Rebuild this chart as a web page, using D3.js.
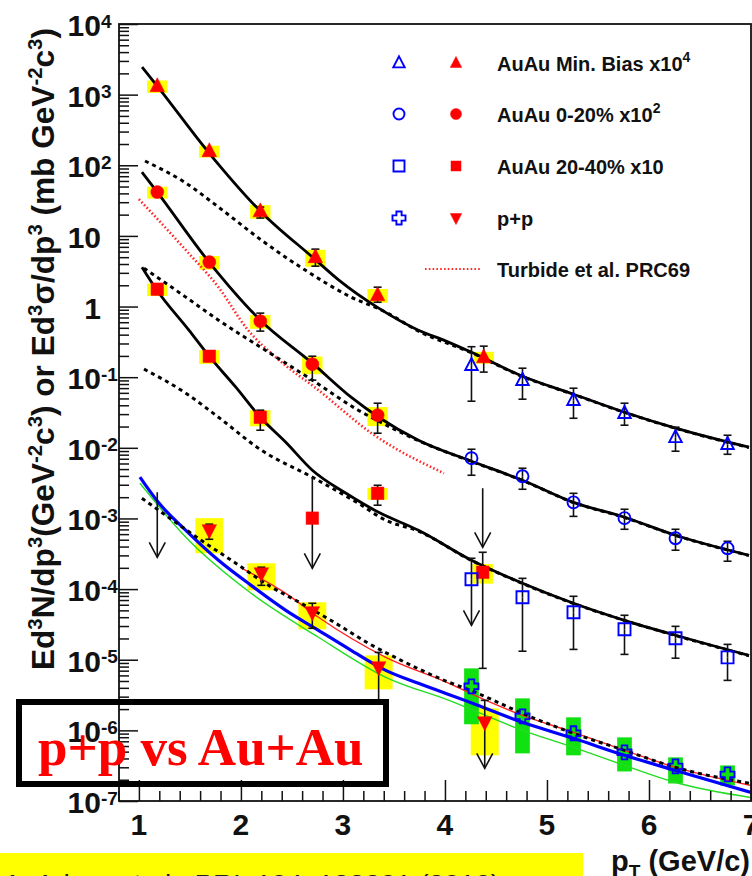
<!DOCTYPE html>
<html>
<head>
<meta charset="utf-8">
<script src="https://cdn.jsdelivr.net/npm/d3@7"></script>
<style>
  html, body { margin: 0; padding: 0; background: #fff; }
  svg { display: block; font-family: "Liberation Sans", Arial, Helvetica, sans-serif; }
</style>
</head>
<body>
<svg id="chart" width="752" height="876"></svg>
<script>
// ---------------- data (pT in GeV/c) ----------------
// Au+Au minimum bias, scaled x10^4 (filled: virtual-photon method)
const mbPt      = [1.18, 1.69, 2.19, 2.73, 3.34, 4.38];
const mbYield   = [1324, 159, 22.4, 5.01, 1.45, 0.192];
const mbStatLo  = [null, null, 17.9, 3.73, 1.15, 0.118];
const mbStatHi  = [null, null, 25.6, 6.5, 1.88, 0.275];
const mbSys     = [0.2, 0.19, 0.22, 0.27, 0.22, 0.19];
// Au+Au minimum bias x10^4 (open: real photons)
const mbHiPt    = [4.26, 4.76, 5.26, 5.76, 6.26, 6.77];
const mbHiYield = [0.148, 0.0908, 0.0472, 0.0309, 0.0141, 0.01125];
const mbHiLo    = [0.0457, 0.0488, 0.0262, 0.0209, 0.00895, 0.0081];
const mbHiHi    = [0.27, 0.134, 0.0698, 0.0428, 0.0196, 0.01507];

// Au+Au 0-20%, scaled x10^2
const c020Pt      = [1.18, 1.69, 2.19, 2.70, 3.34];
const c020Yield   = [41.7, 4.26, 0.621, 0.153, 0.029];
const c020StatLo  = [null, null, 0.449, 0.0908, 0.0161];
const c020StatHi  = [null, null, 0.807, 0.198, 0.0428];
const c020Sys     = [0.19, 0.22, 0.22, 0.28, 0.3];
const c020HiPt    = [4.26, 4.76, 5.26, 5.76, 6.26, 6.77];
const c020HiYield = [7.13e-3, 3.96e-3, 1.69e-3, 1.01e-3, 5.25e-4, 3.78e-4];
const c020HiLo    = [4.09e-3, 2.59e-3, 1.07e-3, 7.03e-4, 3.55e-4, 2.48e-4];
const c020HiHi    = [9.55e-3, 5.14e-3, 2.27e-3, 1.35e-3, 7.03e-4, 4.75e-4];

// Au+Au 20-40%, scaled x10
const c2040Pt      = [1.18, 1.69, 2.19, 3.34, 4.37];
const c2040Yield   = [1.76, 0.198, 0.0271, 2.27e-3, 1.73e-4];
const c2040StatLo  = [null, null, 0.01775, 1.54e-3, 7.55e-6];
const c2040StatHi  = [null, null, 0.0341, 2.95e-3, 3.32e-4];
const c2040Sys     = [0.2, 0.22, 0.255, 0.19, 0.31];
const c2040LimPt    = [2.70];
const c2040LimYield = [1.01e-3];
const c2040HiPt    = [4.26, 4.76, 5.26, 5.76, 6.26, 6.77];
const c2040HiYield = [1.38e-4, 7.66e-5, 4.69e-5, 2.70e-5, 2.01e-5, 1.08e-5];
const c2040HiLo    = [null, 1.32e-5, 1.40e-5, 1.19e-5, 1.05e-5, 5.1e-6];
const c2040HiHi    = [2.73e-4, 1.42e-4, 7.91e-5, 4.26e-5, 2.97e-5, 1.65e-5];

// p+p cross section (mb GeV^-2 c^3)
const ppPt     = [1.69, 2.20, 2.70, 3.35, 4.39];
const ppXsec   = [6.8e-4, 1.67e-4, 4.69e-5, 7.8e-6, 1.30e-6];
const ppStatLo = [5.07e-4, 1.13e-4, 2.79e-5, 2.7e-6, null];
const ppStatHi = [8.3e-4, 2.04e-4, 6.3e-5, 1.27e-5, 2.66e-6];
const ppSysLo  = [3.21e-4, 9.6e-5, 2.70e-5, 3.81e-6, 4.43e-7];
const ppSysHi  = [1.01e-3, 2.32e-4, 6.5e-5, 1.15e-5, 2.05e-6];
const ppHiPt    = [4.26, 4.76, 5.26, 5.76, 6.26, 6.77];
const ppHiXsec  = [4.2e-6, 1.58e-6, 9.08e-7, 4.88e-7, 3.09e-7, 2.38e-7];
const ppHiSysLo = [1.22e-6, 4.72e-7, 4.43e-7, 2.62e-7, 1.77e-7, 1.66e-7];
const ppHiSysHi = [7.55e-6, 2.84e-6, 1.53e-6, 7.96e-7, 4.15e-7, 3.19e-7];

// upper limits (arrows)
const limitPt   = [1.18, 2.70, 4.26, 4.37, 4.39];
const limitFrom = [2.35e-3, 3.84e-3, 1.38e-4, 2.68e-3, 1.30e-6];
const limitTo   = [2.82e-4, 1.97e-4, 3.07e-5, 3.91e-4, 2.9e-7];

// fit to Au+Au (solid) and Ncoll-scaled p+p fit (dashed)
const fitMbPt    = [1.03, 1.18, 1.68, 2.20, 2.71, 2.96, 3.35, 3.74, 4.01, 4.26, 4.76, 5.26, 5.76, 6.26, 6.98];
const fitMbVal   = [2460, 1320, 154, 21.7, 4.89, 2.37, 0.95, 0.463, 0.324, 0.225, 0.103, 0.0574, 0.0319, 0.0190, 0.0102];
const ppMbPt     = [1.06, 1.46, 1.78, 2.20, 2.63, 3.08, 3.42, 3.74, 4.26, 4.76, 5.26, 5.76, 6.26, 6.98];
const ppMbVal    = [115, 56, 25.6, 8.73, 3.28, 1.36, 0.834, 0.449, 0.222, 0.102, 0.0570, 0.0317, 0.0189, 0.0101];
const fit020Pt   = [1.03, 1.18, 1.68, 2.19, 2.70, 3.08, 3.35, 3.74, 4.26, 4.76, 5.26, 5.76, 6.26, 6.98];
const fit020Val  = [80, 41.7, 4.40, 0.642, 0.158, 0.0521, 0.0271, 0.0128, 6.46e-3, 3.48e-3, 1.69e-3, 1.04e-3, 5.78e-4, 3.01e-4];
const pp020Pt    = [1.05, 1.46, 1.78, 2.24, 2.70, 3.15, 3.35, 3.74, 4.26, 4.76, 5.26, 5.76, 6.26, 6.98];
const pp020Val   = [3.50, 1.36, 0.642, 0.241, 0.0908, 0.0341, 0.0238, 0.0126, 6.4e-3, 3.45e-3, 1.68e-3, 1.03e-3, 5.75e-4, 3.0e-4];
const fit2040Pt  = [1.03, 1.17, 1.49, 1.68, 1.95, 2.19, 2.44, 2.70, 3.03, 3.35, 3.74, 4.26, 4.76, 5.26, 5.76, 6.26, 6.98];
const fit2040Val = [3.61, 1.76, 0.463, 0.205, 0.0722, 0.0271, 0.0120, 4.82e-3, 2.27e-3, 1.22e-3, 6.8e-4, 2.56e-4, 1.21e-4, 6.3e-5, 3.61e-5, 2.22e-5, 1.15e-5];
const pp2040Pt   = [1.05, 1.46, 1.78, 2.20, 2.70, 3.15, 3.42, 3.74, 4.26, 4.76, 5.26, 5.76, 6.26, 6.98];
const pp2040Val  = [0.130, 0.0593, 0.0271, 9.25e-3, 3.84e-3, 1.64e-3, 9.43e-4, 6.6e-4, 2.54e-4, 1.20e-4, 6.25e-5, 3.6e-5, 2.2e-5, 1.14e-5];

// Turbide et al. PRC69 (0-20% x10^2)
const turbPt  = [1.0, 1.46, 1.78, 2.07, 2.34, 2.76, 3.28, 3.99];
const turbVal = [33.2, 6.30, 1.88, 0.463, 0.192, 0.0655, 0.0161, 4.37e-3];

// p+p curves
const ppFitPt  = [1.03, 1.29, 1.61, 1.95, 2.27, 2.59, 2.93, 3.25, 3.57, 4.04, 4.25, 4.76, 5.26, 5.76, 6.26, 7.0];
const ppFitVal = [1.93e-3, 1.04e-3, 4.91e-4, 2.32e-4, 1.13e-4, 6.3e-5, 3.28e-5, 1.71e-5, 9.8e-6, 4.79e-6, 3.69e-6, 1.74e-6, 9.08e-7, 5.21e-7, 2.99e-7, 1.77e-7];
const pqcdPt   = [1.01, 1.19, 1.46, 1.78, 2.10, 2.44, 2.76, 3.08, 3.42, 3.74, 4.25, 4.76, 5.26, 5.76, 6.26, 7.0];
const pqcdVal  = [3.84e-3, 1.69e-3, 6.8e-4, 2.56e-4, 1.13e-4, 5.01e-5, 2.61e-5, 1.36e-5, 7.08e-6, 4.63e-6, 2.49e-6, 1.30e-6, 7.71e-7, 4.43e-7, 2.71e-7, 1.32e-7];
const pqcdLoPt  = [1.01, 1.46, 2.10, 2.76, 3.42, 4.04, 4.76, 5.26, 5.76, 6.26, 7.0];
const pqcdLoVal = [3.15e-3, 5.42e-4, 8.72e-5, 2.08e-5, 5.64e-6, 2.66e-6, 1.0e-6, 5.74e-7, 3.19e-7, 1.83e-7, 1.12e-7];
const pqcdHiPt  = [2.01, 2.44, 2.76, 3.42, 4.04, 4.25, 4.76, 5.26, 5.76, 6.26, 7.0];
const pqcdHiVal = [1.97e-4, 8.72e-5, 3.99e-5, 1.08e-5, 4.63e-6, 3.34e-6, 1.63e-6, 9.38e-7, 5.21e-7, 2.99e-7, 1.66e-7];

// axes
const xTicks = [1, 2, 3, 4, 5, 6, 7];
const yTickPowers = [4, 3, 2, 1, 0, -1, -2, -3, -4, -5, -6, -7];

const legendRows = [
  { open: "triUp",  filled: "triUp",   text: "AuAu Min. Bias x10", sup: "4" },
  { open: "circle", filled: "circle",  text: "AuAu 0-20% x10",     sup: "2" },
  { open: "square", filled: "square",  text: "AuAu 20-40% x10",    sup: null },
  { open: "cross",  filled: "triDown", text: "p+p",                sup: null },
  { open: null,     filled: "dotted",  text: "Turbide et al. PRC69", sup: null }
];

// ---------------- drawing ----------------
const RED = "#ff0000", BLUE = "#0000ff", YELLOW = "#ffff00", GREEN = "#11e011";
const svg = d3.select("#chart");
const L = 119, T = 24, R = 751, B = 801;
const x = d3.scaleLinear().domain([0.8, 7]).range([118.5, 751]);
const y = d3.scaleLog().domain([1e-7, 1e4]).range([B, T]);

svg.append("defs").append("clipPath").attr("id", "plotArea")
  .append("rect").attr("x", L).attr("y", T).attr("width", R - L).attr("height", B - T);

const plot = svg.append("g").attr("clip-path", "url(#plotArea)");
const gBoxes = plot.append("g");
const gCurves = plot.append("g");
const gErr = plot.append("g");
const gMarks = plot.append("g");

const shape = {
  triUp:   s => `M0,${-0.6 * s}L${0.52 * s},${0.4 * s}L${-0.52 * s},${0.4 * s}Z`,
  triDown: s => `M0,${0.6 * s}L${0.52 * s},${-0.4 * s}L${-0.52 * s},${-0.4 * s}Z`,
  square:  s => `M${-s / 2},${-s / 2}H${s / 2}V${s / 2}H${-s / 2}Z`,
  circle:  s => { const r = s / 2; return `M${r},0A${r},${r} 0 1,1 ${-r},0A${r},${r} 0 1,1 ${r},0Z`; },
  cross:   s => { const a = s * 0.2, h = s / 2;
    return `M${-a},${-h}H${a}V${-a}H${h}V${a}H${a}V${h}H${-a}V${a}H${-h}V${-a}H${-a}Z`; }
};

function marker(g, kind, cx, cy, size, filled) {
  g.append("path")
    .attr("transform", `translate(${cx},${cy})`)
    .attr("d", shape[kind](size))
    .attr("fill", filled ? RED : "none")
    .attr("stroke", filled ? RED : BLUE)
    .attr("stroke-width", filled ? 0.5 : 1.9);
}

function sysBoxes(pts, vals, rel, halfW) {
  pts.forEach((p, i) => {
    const hi = vals[i] * (1 + rel[i]), lo = vals[i] * (1 - rel[i]);
    gBoxes.append("rect")
      .attr("x", x(p - halfW)).attr("width", x(p + halfW) - x(p - halfW))
      .attr("y", y(hi)).attr("height", y(lo) - y(hi))
      .attr("fill", YELLOW);
  });
}
function rangeBoxes(pts, lo, hi, halfW, color) {
  pts.forEach((p, i) => {
    gBoxes.append("rect")
      .attr("x", x(p - halfW)).attr("width", x(p + halfW) - x(p - halfW))
      .attr("y", y(hi[i])).attr("height", y(lo[i]) - y(hi[i]))
      .attr("fill", color);
  });
}
function errBars(pts, vals, lo, hi) {
  pts.forEach((p, i) => {
    const cx = x(p), cap = 4;
    const top = hi[i] != null ? y(hi[i]) : null;
    const bot = lo[i] != null ? y(lo[i]) : null;
    if (top != null) {
      gErr.append("line").attr("x1", cx).attr("x2", cx).attr("y1", top).attr("y2", y(vals[i]));
      gErr.append("line").attr("x1", cx - cap).attr("x2", cx + cap).attr("y1", top).attr("y2", top);
    }
    if (bot != null) {
      gErr.append("line").attr("x1", cx).attr("x2", cx).attr("y1", y(vals[i])).attr("y2", bot);
      gErr.append("line").attr("x1", cx - cap).attr("x2", cx + cap).attr("y1", bot).attr("y2", bot);
    }
  });
}
function drawCurve(pts, vals, stroke, width, dash) {
  const line = d3.line().x(d => x(d[0])).y(d => y(d[1])).curve(d3.curveMonotoneX);
  const p = gCurves.append("path").datum(d3.zip(pts, vals)).attr("d", line)
    .attr("fill", "none").attr("stroke", stroke).attr("stroke-width", width)
    .attr("stroke-linejoin", "round");
  if (dash) p.attr("stroke-dasharray", dash);
}

// systematic boxes
const HW = 0.1;
sysBoxes(mbPt, mbYield, mbSys, HW);
sysBoxes(c020Pt, c020Yield, c020Sys, HW);
sysBoxes(c2040Pt, c2040Yield, c2040Sys, HW);
rangeBoxes(ppPt, ppSysLo, ppSysHi, 0.137, YELLOW);
rangeBoxes(ppHiPt, ppHiSysLo, ppHiSysHi, 0.072, GREEN);

// curves
drawCurve(turbPt, turbVal, "#ff2a2a", 2.6, "1.6,2.2");
drawCurve(pqcdLoPt, pqcdLoVal, "#22dd22", 1.4);
drawCurve(pqcdHiPt, pqcdHiVal, "#ff2222", 1.4);
drawCurve(pqcdPt, pqcdVal, BLUE, 3.2);
drawCurve(fitMbPt, fitMbVal, "#000", 2.8);
drawCurve(fit020Pt, fit020Val, "#000", 2.8);
drawCurve(fit2040Pt, fit2040Val, "#000", 2.8);
drawCurve(ppMbPt, ppMbVal, "#000", 3, "4,4");
drawCurve(pp020Pt, pp020Val, "#000", 3, "4,4");
drawCurve(pp2040Pt, pp2040Val, "#000", 3, "4,4");
drawCurve(ppFitPt, ppFitVal, "#000", 3, "4,4");

// error bars
gErr.attr("stroke", "#111").attr("stroke-width", 1.6);
errBars(mbPt, mbYield, mbStatLo, mbStatHi);
errBars(mbHiPt, mbHiYield, mbHiLo, mbHiHi);
errBars(c020Pt, c020Yield, c020StatLo, c020StatHi);
errBars(c020HiPt, c020HiYield, c020HiLo, c020HiHi);
errBars(c2040Pt, c2040Yield, c2040StatLo, c2040StatHi);
errBars(c2040HiPt, c2040HiYield, c2040HiLo, c2040HiHi);
errBars(ppPt, ppXsec, ppStatLo, ppStatHi);

// upper-limit arrows
limitPt.forEach((p, i) => {
  const cx = x(p), y0 = y(limitFrom[i]), y1 = y(limitTo[i]);
  gErr.append("line").attr("x1", cx).attr("x2", cx).attr("y1", y0).attr("y2", y1);
  gErr.append("path").attr("fill", "none")
    .attr("d", `M${cx - 8},${y1 - 15}L${cx},${y1}L${cx + 8},${y1 - 15}`);
});

// markers
mbPt.forEach((p, i) => marker(gMarks, "triUp", x(p), y(mbYield[i]), 14, true));
c020Pt.forEach((p, i) => marker(gMarks, "circle", x(p), y(c020Yield[i]), 13, true));
c2040Pt.forEach((p, i) => marker(gMarks, "square", x(p), y(c2040Yield[i]), 12.5, true));
c2040LimPt.forEach((p, i) => marker(gMarks, "square", x(p), y(c2040LimYield[i]), 12.5, true));
ppPt.forEach((p, i) => marker(gMarks, "triDown", x(p), y(ppXsec[i]), 14, true));
mbHiPt.forEach((p, i) => marker(gMarks, "triUp", x(p), y(mbHiYield[i]), 12, false));
c020HiPt.forEach((p, i) => marker(gMarks, "circle", x(p), y(c020HiYield[i]), 12, false));
c2040HiPt.forEach((p, i) => marker(gMarks, "square", x(p), y(c2040HiYield[i]), 12, false));
ppHiPt.forEach((p, i) => marker(gMarks, "cross", x(p), y(ppHiXsec[i]), 14, false));

// ---------------- axes ----------------
const axes = svg.append("g");
const yMajor = yTickPowers.map(e => Math.pow(10, e));
const yMinor = [];
yTickPowers.filter(e => e < 4).forEach(e => { for (let k = 2; k <= 9; k++) yMinor.push(k * Math.pow(10, e)); });
const xMinor = d3.range(8, 71, 2).map(v => v / 10).filter(v => Math.abs(v - Math.round(v)) > 1e-6);

function styleAxis(g) {
  g.select(".domain").remove();
  g.selectAll(".tick line").attr("stroke", "#111").attr("stroke-width", 1.5);
  g.selectAll(".tick text").remove();
}
axes.append("g").attr("transform", `translate(${L},0)`)
  .call(d3.axisLeft(y).tickValues(yMajor).tickSize(-19).tickFormat(""))
  .call(styleAxis);
axes.append("g").attr("transform", `translate(${L},0)`)
  .call(d3.axisLeft(y).tickValues(yMinor).tickSize(-10).tickFormat(""))
  .call(styleAxis);
axes.append("g").attr("transform", `translate(0,${B})`)
  .call(d3.axisBottom(x).tickValues(xTicks).tickSize(-21).tickFormat(""))
  .call(styleAxis);
axes.append("g").attr("transform", `translate(0,${B})`)
  .call(d3.axisBottom(x).tickValues(xMinor).tickSize(-10).tickFormat(""))
  .call(styleAxis);

svg.append("rect").attr("x", L).attr("y", T).attr("width", R - L).attr("height", B - T)
  .attr("fill", "none").attr("stroke", "#111").attr("stroke-width", 1.8);

// y tick labels
yTickPowers.forEach(e => {
  const ty = y(Math.pow(10, e));
  const t = svg.append("text").attr("x", 101).attr("y", ty + 12)
    .attr("font-size", 30).attr("font-weight", "bold").attr("fill", "#111");
  if (e === 0) { t.attr("text-anchor", "end").text("1"); return; }
  if (e === 1) { t.attr("text-anchor", "end").text("10"); return; }
  t.attr("x", 101 - 33.4);
  t.append("tspan").text("10");
  t.append("tspan").attr("dy", -8.5).attr("font-size", 19).text(String(e));
});

// x tick labels
xTicks.forEach(v => {
  svg.append("text").attr("x", x(v)).attr("y", 835).attr("text-anchor", "middle")
    .attr("font-size", 30).attr("font-weight", "bold").attr("fill", "#111").text(v);
});

// x title
const xt = svg.append("text").attr("x", 750).attr("y", 871).attr("text-anchor", "end")
  .attr("font-size", 29).attr("font-weight", "bold").attr("fill", "#111");
xt.append("tspan").text("p");
xt.append("tspan").attr("dy", 7).attr("font-size", 19).text("T");
xt.append("tspan").attr("dy", -7).text(" (GeV/c)");

// y title
const yt = svg.append("text").attr("transform", "translate(54,670) rotate(-90)")
  .attr("font-size", 31).attr("font-weight", "bold").attr("fill", "#111")
  .attr("textLength", 642).attr("lengthAdjust", "spacingAndGlyphs");
[["Ed", 0], ["3", 1], ["N/dp", 0], ["3", 1], ["(GeV", 0], ["-2", 1], ["c", 0], ["3", 1],
 [") or Ed", 0], ["3", 1], ["\u03c3/dp", 0], ["3", 1], [" (mb GeV", 0], ["-2", 1], ["c", 0], ["3", 1], [")", 0]]
  .forEach(([s, sup], i, arr) => {
    const prevSup = i > 0 && arr[i - 1][1];
    const ts = yt.append("tspan").text(s);
    if (sup && !prevSup) ts.attr("dy", -12).attr("font-size", 20);
    else if (sup) ts.attr("font-size", 20);
    else if (prevSup) ts.attr("dy", 12);
  });

// ---------------- legend ----------------
const legRowY = [63, 114, 166, 218, 269];
legendRows.forEach((row, i) => {
  const ly = legRowY[i];
  if (row.open) marker(svg, row.open, 399, ly, row.open === "cross" ? 13 : 11, false);
  if (row.filled === "dotted") {
    svg.append("line").attr("x1", 425).attr("x2", 482).attr("y1", ly).attr("y2", ly)
      .attr("stroke", "#ff2a2a").attr("stroke-width", 2.2).attr("stroke-dasharray", "1.6,2.2");
  } else {
    marker(svg, row.filled, 456, ly, row.filled === "square" ? 10 : 11, true);
  }
  const t = svg.append("text").attr("x", 497).attr("y", ly + 8)
    .attr("font-size", 20).attr("font-weight", "bold").attr("fill", "#111");
  t.append("tspan").text(row.text);
  if (row.sup) t.append("tspan").attr("dy", -9).attr("font-size", 14).text(row.sup);
});

// ---------------- annotation box ----------------
svg.append("rect").attr("x", 19).attr("y", 702).attr("width", 367).attr("height", 82)
  .attr("fill", "none").attr("stroke", "#000").attr("stroke-width", 6);
svg.append("text").attr("x", 38).attr("y", 765)
  .style("font-family", "'Liberation Serif', 'Times New Roman', serif")
  .attr("font-size", 53).attr("font-weight", "bold").attr("fill", RED)
  .text("p+p vs Au+Au");

// reference strip
svg.append("rect").attr("x", 0).attr("y", 853).attr("width", 583).attr("height", 23).attr("fill", YELLOW);
svg.append("text").attr("x", 3).attr("y", 894).attr("font-size", 28).attr("fill", "#222")
  .text("A. Adare et al., PRL 104, 132301 (2010)");
</script>
</body>
</html>
